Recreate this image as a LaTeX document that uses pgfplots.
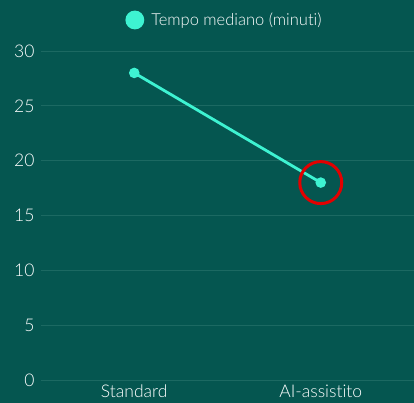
\documentclass[border=0pt]{standalone}
\usepackage{fontspec}
\setmainfont{Lato Light}[Ligatures=NoCommon]
\usepackage{pgfplots}
\pgfplotsset{compat=1.18}
\definecolor{bg}{HTML}{055650}
\definecolor{gridc}{HTML}{1C6962}
\definecolor{teal}{HTML}{3EF3D2}
\definecolor{ann}{HTML}{E30000}
\begin{document}
\begin{tikzpicture}
\clip (0,0) rectangle (414pt,403pt);
\fill[bg] (0,0) rectangle (414pt,403pt);
\begin{axis}[
  at={(41pt,23pt)}, anchor=south west,
  scale only axis, width=373pt, height=329pt,
  xmin=-0.5, xmax=1.5, ymin=0, ymax=30,
  xtick={0,1}, xticklabels={Standard,AI-assistito},
  ytick={0,5,10,15,20,25,30},
  axis line style={draw=none},
  major tick length=0pt,
  xmajorgrids=false, ymajorgrids=true,
  major grid style={draw=gridc, line width=0.8pt},
  tick label style={text=white, font=\fontsize{17.5}{19}\selectfont},
  /pgf/number format/assume math mode=true,
  yticklabel style={xshift=-3pt},
  xticklabel style={yshift=-1pt},
  legend style={at={(0.5,1)}, anchor=center, yshift=31pt, xshift=-3pt, draw=none, fill=none,
    text=white, font=\fontsize{16.5}{18}\selectfont},
  legend cell align=left,
]
\addplot[teal, line width=2.8pt, mark=*, mark size=3.8pt, mark options={fill=teal, draw=teal},
  legend image code/.code={\fill[teal] (0,0) circle (8pt); \path (13pt,0);}]
  coordinates {(0,28) (1,18)};
\addlegendentry{Tempo mediano (minuti)}
\draw[ann, line width=3pt] (axis cs:1,18) circle (21pt);
\end{axis}
\end{tikzpicture}
\end{document}
